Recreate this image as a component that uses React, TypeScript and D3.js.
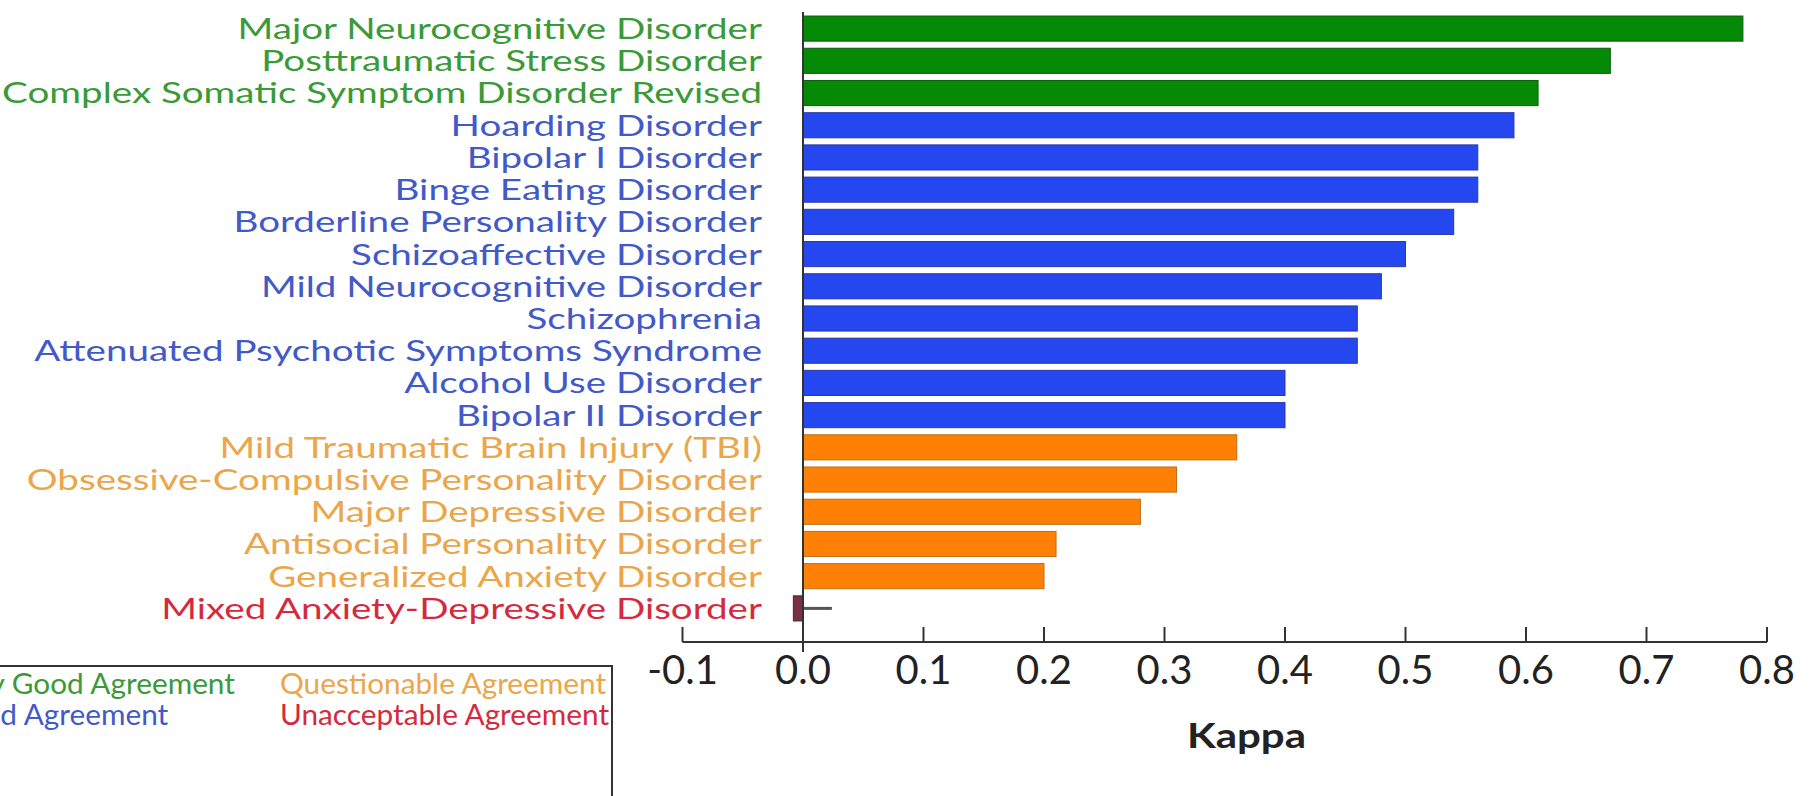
// @ts-nocheck
import * as d3 from 'd3';

const categories = [
  'Major Neurocognitive Disorder',
  'Posttraumatic Stress Disorder',
  'Complex Somatic Symptom Disorder Revised',
  'Hoarding Disorder',
  'Bipolar I Disorder',
  'Binge Eating Disorder',
  'Borderline Personality Disorder',
  'Schizoaffective Disorder',
  'Mild Neurocognitive Disorder',
  'Schizophrenia',
  'Attenuated Psychotic Symptoms Syndrome',
  'Alcohol Use Disorder',
  'Bipolar II Disorder',
  'Mild Traumatic Brain Injury (TBI)',
  'Obsessive-Compulsive Personality Disorder',
  'Major Depressive Disorder',
  'Antisocial Personality Disorder',
  'Generalized Anxiety Disorder',
  'Mixed Anxiety-Depressive Disorder',
];

const kappa = [0.78, 0.67, 0.61, 0.59, 0.56, 0.56, 0.54, 0.5, 0.48, 0.46, 0.46, 0.4, 0.4, 0.36, 0.31, 0.28, 0.21, 0.2, -0.008];

// upper end of the thin whisker (only drawn for the last row)
const whiskerHigh = [null, null, null, null, null, null, null, null, null, null, null, null, null, null, null, null, null, null, 0.024];

const agreement = [
  'veryGood', 'veryGood', 'veryGood',
  'good', 'good', 'good', 'good', 'good', 'good', 'good', 'good', 'good', 'good',
  'questionable', 'questionable', 'questionable', 'questionable', 'questionable',
  'unacceptable',
];

const xTicks = [-0.1, 0, 0.1, 0.2, 0.3, 0.4, 0.5, 0.6, 0.7, 0.8];

const legendLabels = ['Very Good Agreement', 'Good Agreement', 'Questionable Agreement', 'Unacceptable Agreement'];
const legendKeys = ['veryGood', 'good', 'questionable', 'unacceptable'];

const barColor = {
  veryGood: '#048a04',
  good: '#2447f0',
  questionable: '#ff8004',
  unacceptable: '#7a2f44',
};
const barStroke = {
  veryGood: '#0b5e0b',
  good: '#2a3aa0',
  questionable: '#b8701a',
  unacceptable: '#5a2030',
};
const textColor = {
  veryGood: '#3a9a38',
  good: '#4259c8',
  questionable: '#eba64a',
  unacceptable: '#d52a3e',
};

const W = 1810;
const H = 796;
const FONT = 'Lato, "Open Sans", sans-serif';

export default function App() {
  const x = d3.scaleLinear().domain([-0.1, 0.8]).range([682.5, 1767]);
  const y = d3.scaleBand().domain(categories).range([12.5, 624.5]).paddingInner(0.22).paddingOuter(0.11);
  const axisY = 642;
  const labelX = 762;
  const fmt = (t) => d3.format('.1f')(t).replace('\u2212', '-');

  return (
    <svg width={W} height={H} style={{ position: 'absolute', left: 0, top: 0, background: '#fff' }}>
      {/* bars */}
      {categories.map((c, i) => {
        const v = kappa[i];
        const k = agreement[i];
        const x0 = x(Math.min(0, v));
        const x1 = x(Math.max(0, v));
        return (
          <g key={c}>
            <rect
              x={x0}
              y={y(c)}
              width={Math.max(1, x1 - x0)}
              height={y.bandwidth()}
              fill={barColor[k]}
              stroke={barStroke[k]}
              strokeWidth={1}
            />
            {whiskerHigh[i] != null && (
              <line
                x1={x(0)}
                x2={x(whiskerHigh[i])}
                y1={y(c) + y.bandwidth() / 2}
                y2={y(c) + y.bandwidth() / 2}
                stroke="#555"
                strokeWidth={3}
              />
            )}
            <g transform={`translate(${labelX},${y(c) + y.bandwidth() / 2}) scale(1.33,1)`}>
              <text dy="0.36em" textAnchor="end" fontFamily={FONT} fontSize={29} fill={textColor[k]}>
                {c}
              </text>
            </g>
          </g>
        );
      })}

      {/* zero line */}
      <line x1={x(0)} x2={x(0)} y1={12} y2={axisY + 10} stroke="#333" strokeWidth={2} />

      {/* x axis */}
      <line x1={x(-0.1)} x2={x(0.8)} y1={axisY} y2={axisY} stroke="#333" strokeWidth={2} />
      {xTicks.map((t) => (
        <g key={t}>
          <line x1={x(t)} x2={x(t)} y1={axisY - 15} y2={axisY} stroke="#333" strokeWidth={2} />
          <text x={x(t)} y={axisY + 42} textAnchor="middle" fontFamily={FONT} fontSize={40} fill="#222">
            {fmt(t)}
          </text>
        </g>
      ))}
      <g transform={`translate(${x(0.368)},748) scale(1.2,1)`}>
        <text textAnchor="middle" fontFamily={FONT} fontSize={35} fontWeight="bold" fill="#222">
          Kappa
        </text>
      </g>

      {/* legend (clipped at the left edge) */}
      <rect x={-60} y={666} width={672} height={160} fill="none" stroke="#333" strokeWidth={2} />
      {legendLabels.map((l, i) => {
        const col = Math.floor(i / 2);
        const row = i % 2;
        return (
          <g key={l} transform={`translate(${col === 0 ? -55 : 280},${694 + row * 31}) scale(1.064,1)`}>
            <text fontFamily={FONT} fontSize={28} fill={textColor[legendKeys[i]]}>
              {l}
            </text>
          </g>
        );
      })}
    </svg>
  );
}
